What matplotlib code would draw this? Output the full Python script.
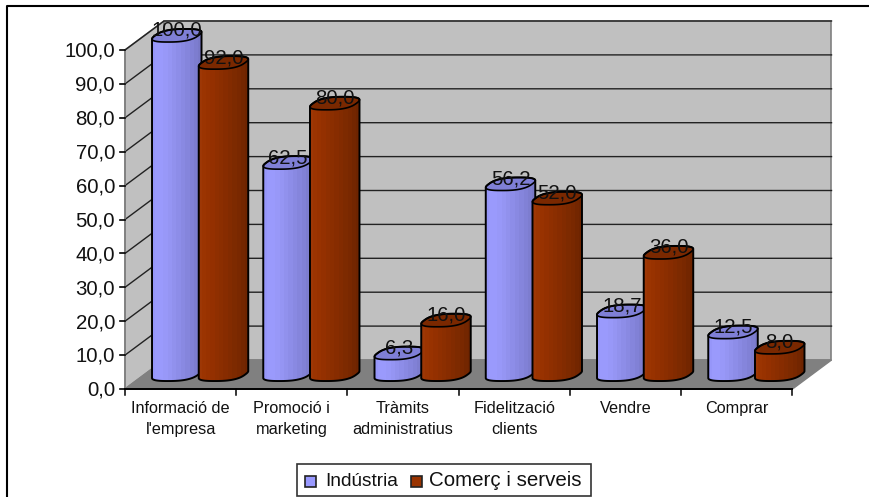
import numpy as np
import matplotlib
matplotlib.use("Agg")
import matplotlib.pyplot as plt
from matplotlib.patches import Polygon, Rectangle
from matplotlib.colors import LinearSegmentedColormap

plt.rcParams['font.family'] = ['Liberation Sans', 'DejaVu Sans']

categories = ["Informació de\nl'empresa", "Promoció i\nmarketing", "Tràmits\nadministratius",
              "Fidelització\nclients", "Vendre", "Comprar"]
industria = [100.0, 62.5, 6.3, 56.2, 18.7, 12.5]
comerc = [92.0, 80.0, 16.0, 52.0, 36.0, 8.0]
yticks = [0, 10, 20, 30, 40, 50, 60, 70, 80, 90, 100]

W, H = 870, 497
fig = plt.figure(figsize=(W / 100, H / 100), dpi=100, facecolor="white")

# front plane of the fake 3d box, in pixels
left, right, top, bottom = 125, 792.5, 50, 389
ax = fig.add_axes([left / W, 1 - bottom / H, (right - left) / W, (bottom - top) / H])
ax.set_xlim(0, 6)
ax.set_ylim(0, 100)
ax.axis("off")

# depth of the box in data units
dx = 39 / ((right - left) / 6)
dy = 29 / ((bottom - top) / 100)

ax.add_patch(Polygon([(0, 0), (dx, dy), (dx, 100 + dy), (0, 100)], fc="#c0c0c0", ec="#808080", lw=1.2, clip_on=False, zorder=1))
ax.add_patch(Polygon([(dx, dy), (6 + dx, dy), (6 + dx, 100 + dy), (dx, 100 + dy)], fc="#c0c0c0", ec="#808080", lw=1.2, clip_on=False, zorder=1))
ax.add_patch(Polygon([(0, 0), (6, 0), (6 + dx, dy), (dx, dy)], fc="#808080", ec="#808080", lw=1, clip_on=False, zorder=1))

for v in yticks[1:]:
    ax.plot([0, dx, 6 + dx], [v, v + dy, v + dy], color="#222222", lw=1, clip_on=False, zorder=2)

# axes lines and ticks
ax.plot([0, 0], [0, 100], color="#808080", lw=1.2, clip_on=False, zorder=3)
ax.plot([0, 6], [0, 0], color="black", lw=1.4, clip_on=False, zorder=3)
for v in yticks:
    ax.plot([-0.045, 0], [v, v], color="black", lw=1.2, clip_on=False, zorder=3)
    ax.text(-0.09, v - 0.4, f"{v:.1f}".replace(".", ","), ha="right", va="center", fontsize=14.7, color="#111111", zorder=6)
for i in range(7):
    ax.plot([i, i], [0, -1.7], color="black", lw=1.1, clip_on=False, zorder=3)
for i, c in enumerate(categories):
    ax.text(i + 0.5, -3.4, c, ha="center", va="top", fontsize=11.7, linespacing=1.56, color="#111111", zorder=6)

blue_shade = LinearSegmentedColormap.from_list("b", ["#9494f6", "#9c9cff", "#9595f2", "#8a8ae4", "#8080d4", "#7676c2"])
red_shade = LinearSegmentedColormap.from_list("r", ["#a03a08", "#9a3300", "#8f2f00", "#842c00", "#772800", "#692300"])


def draw_cylinder(x0, value, shade, top_col, z):
    half = 0.195
    vx, vy = 0.45 * dx / 2, 0.45 * dy / 2
    cx = x0 + dx / 2
    t = np.linspace(0, 2 * np.pi, 121)
    # rounded parallelogram footprint, flatter than a true ellipse
    c, s = np.cos(t), np.sin(t)
    fc = np.sign(c) * np.abs(c) ** 0.75
    fs = np.sign(s) * np.abs(s) ** 0.75
    ex = half * fc + vx * fs
    ey = vy * fs
    base = dy / 2
    i_l, i_r = np.argmin(ex), np.argmax(ex)
    idx = (np.arange(i_r, i_r + 121) % 120)
    idx = idx[:(i_l - i_r) % 120 + 1]  # right -> over the top -> left
    upper = np.column_stack([cx + ex[idx], value + base + ey[idx]])
    idx2 = (np.arange(i_l, i_l + 121) % 120)
    idx2 = idx2[:(i_r - i_l) % 120 + 1]  # left -> under -> right
    lower = np.column_stack([cx + ex[idx2], base + ey[idx2]])
    outline = np.vstack([upper, lower])
    ax.add_patch(Polygon(outline, fc="none", ec="black", lw=1.4, clip_on=False, zorder=z + 0.2))
    clip = Polygon(outline, transform=ax.transData)
    grad = np.linspace(0, 1, 14).reshape(1, -1)
    im = ax.imshow(grad, cmap=shade, extent=[cx - half - vx, cx + half + vx, 0, value + dy + 6],
                   aspect="auto", zorder=z, interpolation="nearest")
    im.set_clip_path(clip)
    im.set_clip_box(fig.bbox)
    ax.add_patch(Polygon(np.column_stack([cx + ex, value + base + ey]), fc=top_col, ec="black", lw=1.2,
                         clip_on=False, zorder=z + 0.1))


for i in range(len(categories)):
    draw_cylinder(i + 0.29, industria[i], blue_shade, "#7f7fd6", 4)
    draw_cylinder(i + 0.71, comerc[i], red_shade, "#7a2800", 4.5)

# value labels sit on top of each cylinder
for i in range(len(categories)):
    for off, vals in ((0.29, industria), (0.71, comerc)):
        ax.text(i + off + dx / 2, vals[i] + dy / 2 + 1.5, f"{vals[i]:.1f}".replace(".", ","), ha="center", va="center",
                fontsize=14.7, color="#111111", zorder=7)

ax.set_xlim(0, 6)
ax.set_ylim(0, 100)

# outer chart frame, open on the right
bg = fig.add_axes([0, 0, 1, 1], zorder=-1)
bg.set_xlim(0, W)
bg.set_ylim(H, 0)
bg.axis("off")
bg.plot([7.5, 7.5, 870], [497, 6, 6], color="black", lw=1.5)

# legend
leg = fig.add_axes([0, 0, 1, 1], zorder=5)
leg.set_xlim(0, W)
leg.set_ylim(H, 0)
leg.axis("off")
leg.add_patch(Rectangle((297, 463.5), 294, 32.5, fc="white", ec="#333333", lw=1.2))
leg.add_patch(Rectangle((305.5, 476), 11, 11, fc="#9999ff", ec="#222222", lw=1.2))
leg.add_patch(Rectangle((411, 476), 11, 11, fc="#993300", ec="#222222", lw=1.2))
leg.text(325, 481, "Indústria", va="center", fontsize=13.8, color="#111111")
leg.text(429, 481, "Comerç i serveis", va="center", fontsize=14.8, color="#111111")

fig.savefig("out.png", dpi=100)
